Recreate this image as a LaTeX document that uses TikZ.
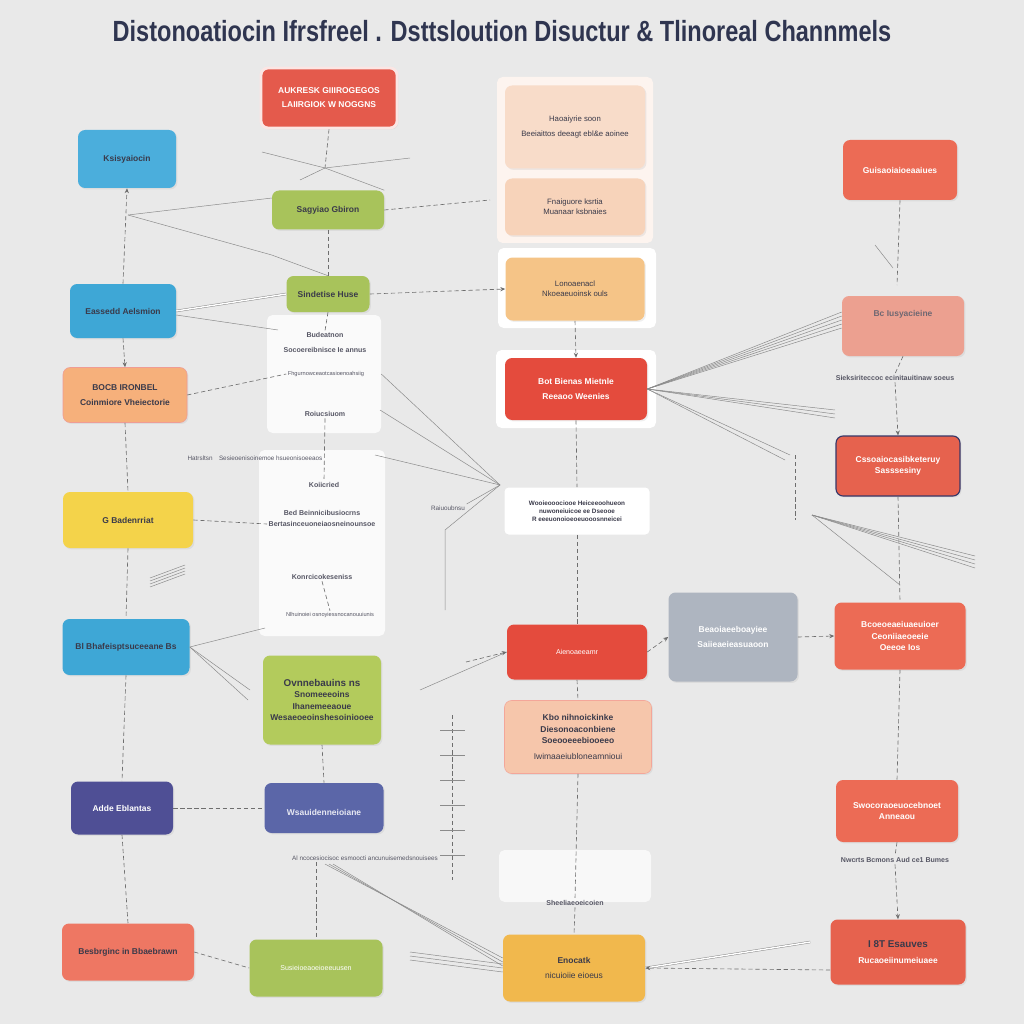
\documentclass[tikz,border=0pt]{standalone}
\usepackage{fontspec}
\setmainfont{Liberation Sans}
\usepackage{graphicx}
\usetikzlibrary{arrows.meta,calc,shadows}

\definecolor{bgc}{HTML}{E9E9E9}
\definecolor{ttl}{HTML}{2F3550}
\definecolor{ink}{HTML}{3A3A4A}
\definecolor{wire}{HTML}{6E6E6E}
\definecolor{blueA}{HTML}{4BAEDC}
\definecolor{blueB}{HTML}{3EA7D6}
\definecolor{orA}{HTML}{F6B07B}
\definecolor{yelA}{HTML}{F4D34A}
\definecolor{indA}{HTML}{4F4F95}
\definecolor{indB}{HTML}{5B66A8}
\definecolor{salA}{HTML}{EE7763}
\definecolor{redA}{HTML}{E45A4C}
\definecolor{grnA}{HTML}{A8C35B}
\definecolor{grnB}{HTML}{B3CB5C}
\definecolor{peaA}{HTML}{F8DCC9}
\definecolor{peaB}{HTML}{F7D3BA}
\definecolor{orB}{HTML}{F5C487}
\definecolor{redB}{HTML}{E44B3D}
\definecolor{peaC}{HTML}{F6C6AB}
\definecolor{golA}{HTML}{F1B84D}
\definecolor{gryA}{HTML}{AEB5C0}
\definecolor{corA}{HTML}{EC6B55}
\definecolor{corB}{HTML}{EE9A88}
\definecolor{corC}{HTML}{E6624E}

\tikzset{
  bx/.style n args={2}{minimum width=#1*0.709pt, minimum height=#2*0.709pt},
  box/.style={rounded corners=5pt, draw=none, align=center, inner sep=1pt,
    font=\fontsize{6}{8}\selectfont\bfseries, text=ink,
    drop shadow={opacity=0.12, shadow xshift=1pt, shadow yshift=-1pt}},
  wbox/.style={box, text=white},
  lbl/.style={font=\fontsize{5}{6}\selectfont\bfseries, text=ink!85, inner sep=1pt},
  wr/.style={draw=wire, line width=0.45pt, densely dashed},
  fan/.style={draw=wire!80, line width=0.35pt},
  tip/.style={-{Stealth[length=3.5pt,width=3pt]}}
}

\begin{document}
\begin{tikzpicture}[x=0.709pt,y=-0.709pt]
\fill[bgc] (0,0) rectangle (1024,1024);
\useasboundingbox (0,0) rectangle (1024,1024);

% title
\node[text=ttl] (title) at (502,31)
  {\resizebox{552pt}{15pt}{\fontsize{20}{24}\selectfont\bfseries Distonoatiocin Ifrsfreel . Dsttsloution Disuctur \& Tlinoreal Channmels}};

% column 3 backing frames
\node[rounded corners=4pt, fill=white!70!peaA, bx={156}{166}] (frm1) at (575,160) {};
\node[rounded corners=4pt, fill=white, bx={158}{80}] (frm2) at (577,288) {};
\node[rounded corners=4pt, fill=white, bx={160}{78}] (frm3) at (576,389) {};

% white panels of column 2
\node[rounded corners=4pt, fill=white, fill opacity=0.8, bx={114}{118}] (wpa) at (324,374) {};
\node[rounded corners=4pt, fill=white, fill opacity=0.8, bx={126}{186}] (wpb) at (322,543) {};
\node[rounded corners=4pt, fill=white, fill opacity=0.7, bx={152}{52}] (wpc) at (575,876) {};

% ---- column 1
\node[box, fill=blueA, bx={98}{58}] (kes) at (127,159) {Ksisyaiocin};
\node[box, fill=blueB, bx={106}{54}] (eas) at (123,311) {Eassedd Aelsmion};
\node[box, fill=orA, draw=redA!60, bx={124}{55}] (boc) at (125,395) {BOCB IRONBEL\\[3pt]Coinmiore Vheiectorie};
\node[box, fill=yelA, bx={130}{56}] (gba) at (128,520) {G Badenrriat};
\node[box, fill=blueB, bx={127}{56}] (bsh) at (126,647) {Bl Bhafeisptsuceeane Bs};
\node[wbox, fill=indA, bx={102}{53}] (add) at (122,808) {Adde Eblantas};
\node[box, fill=salA, bx={132}{57}] (bes) at (128,952) {Besbrginc in Bbaebrawn};

% ---- column 2
\node[wbox, fill=redA, draw=white!85!redA, line width=2pt, bx={136}{60}] (auk) at (329,98)
  {AUKRESK GIIIROGEGOS\\[2pt]LAIIRGIOK W NOGGNS};
\node[box, fill=grnA, bx={112}{39}] (sag) at (328,210) {Sagyiao Gbiron};
\node[box, fill=grnA, bx={83}{36}] (sin) at (328,294) {Sindetise Huse};
\node[box, fill=grnB, bx={118}{89}] (ovn) at (322,700)
  {\fontsize{7}{8}\selectfont Ovnnebauins ns\\Snomeeeoins\\Ihanemeeaoue\\Wesaeoeoinshesoiniooee};
\node[box, fill=indB, text=white!85!indB, bx={119}{50}] (wsa) at (324,808) {\\[2pt]Wsauidenneioiane};
\node[wbox, fill=grnA, font=\fontsize{5}{6}\selectfont, bx={133}{57}] (gre) at (316,968) {Susieioeaoeioeeuusen};

% panel texts
\node[lbl] (bud) at (325,335) {Budeatnon};
\node[lbl] (soc) at (325,350) {Socoereibnisce Ie annus};
\node[lbl, font=\fontsize{4}{5}\selectfont] (fhg) at (326,374) {Fhgurnowceaotcasioenoahsiig};
\node[lbl] (roi) at (325,414) {Roiucsiuom};
\node[lbl] (koi) at (324,485) {Koiicried};
\node[lbl] (bed) at (322,513) {Bed Beinnicibusiocrns};
\node[lbl] (ber) at (322,524) {Bertasinceuoneiaosneinounsoe};
\node[lbl] (kon) at (322,577) {Konrcicokeseniss};
\node[lbl, font=\fontsize{4}{5}\selectfont] (nlh) at (330,615) {Nlhuinoiei osnoyiessnocanouuiunis};

% ---- column 3
\node[box, fill=peaA, font=\fontsize{5.5}{7}\selectfont, bx={140}{83}] (hao) at (575,127)
  {Haoaiyrie soon\\[3pt]Beeiaittos deeagt ebl\&e aoinee};
\node[box, fill=peaB, font=\fontsize{5.5}{7}\selectfont, bx={140}{57}] (fna) at (575,207)
  {Fnaiguore ksrtia\\Muanaar ksbnaies};
\node[box, fill=orB, font=\fontsize{5.5}{7}\selectfont, bx={139}{63}] (lon) at (575,289)
  {Lonoaenacl\\Nkoeaeuoinsk ouls};
\node[wbox, fill=redB, bx={142}{62}] (bot) at (576,389) {Bot Bienas Mietnle\\[2pt]Reeaoo Weenies};
\node[rounded corners=3pt, fill=white, align=center, font=\fontsize{4.5}{5.5}\selectfont\bfseries,
  text=ink, bx={145}{47}] (woo) at (577,511)
  {Wooieooociooe Heiceeoohueon\\nuwoneiuicoe ee Dseooe\\R eeeuonoioeoeuooosnneicei};
\node[wbox, fill=redB, font=\fontsize{5}{6}\selectfont, bx={140}{55}] (aie) at (577,652) {Aienoaeeamr};
\node[box, fill=peaC, draw=corA!60, bx={147}{73}] (kbo) at (578,737)
  {Kbo nihnoickinke\\Diesonoaconbiene\\Soeooeeebiooeeo\\[3pt]{\mdseries Iwimaaeiubloneamnioui}};
\node[lbl] (she) at (575,903) {Sheeliaeoeicoien};
\node[box, fill=golA, bx={142}{67}] (eno) at (574,968) {Enocatk\\[3pt]{\mdseries nicuioiie eioeus}};

% ---- column 4
\node[wbox, fill=gryA, bx={129}{89}] (bea) at (733,637) {Beaoiaeeboayiee\\[3pt]Saiieaeieasuaoon};

% ---- column 5
\node[wbox, fill=corA, bx={114}{60}] (gui) at (900,170) {Guisaoiaioeaaiues};
\node[box, fill=corB, fill opacity=0.9, text=ink!80, bx={122}{60}] (bci) at (903,326) {Bc Iusyacieine\\[10pt]~};
\node[lbl] (sie) at (895,378) {Sieksiriteccoc ecinitauitinaw soeus};
\node[wbox, fill=corC, draw=indA!70!black, line width=0.8pt, bx={124}{60}] (css) at (898,466)
  {Cssoaiocasibketeruy\\Sasssesiny};
\node[wbox, fill=corA, bx={131}{67}] (bco) at (900,636) {Bcoeoeaeiuaeuioer\\Ceoniiaeoeeie\\Oeeoe Ios};
\node[wbox, fill=corA, bx={122}{62}] (swo) at (897,811) {Swocoraoeuocebnoet\\Anneaou};
\node[lbl] (nwc) at (895,860) {Nwcrts Bcmons Aud ce1 Bumes};
\node[wbox, fill=corC, bx={135}{65}] (bts) at (898,952)
  {{\color{ink}\fontsize{7}{8}\selectfont I 8T Esauves}\\[3pt]Rucaoeiinumeiuaee};

% other labels
\node[lbl, font=\fontsize{4.5}{5}\selectfont] (hat) at (255,458) {Hatrsltsn\quad Sesieoenisoinemoe hsueonisoeeaos};
\node[lbl, font=\fontsize{4.5}{5}\selectfont] (alx) at (365,858) {Al ncocesiocisoc esmoocti ancunuisemedsnouisees};
\node[lbl, font=\fontsize{4.5}{5}\selectfont] (rai) at (448,508) {Raiuoubnsu};

% hubs
\coordinate (hb1) at (128,215);
\coordinate (hb2) at (500,485);
\coordinate (hb3) at (660,392);
\coordinate (hb4) at (812,515);
\coordinate (cx1) at (325,168);

% ---- connectors column 1
\draw[wr,tip] (eas.north) -- (kes.south);
\draw[fan] (hb1) -- (sag.west |- 0,255) -- (sin.north);
\draw[fan] (hb1) -- (272,198);
\draw[fan,double distance=1pt] (eas.east) -- (sin.west);
\draw[fan] ($(eas.east)+(0,4)$) -- (278,330);
\draw[wr,tip] (eas.south) -- (boc.north);
\draw[wr] (boc.east) -- (fhg.west);
\draw[wr] (boc.south) -- (gba.north);
\draw[wr] (gba.east) -- (ber.west);
\draw[wr] (gba.south) -- (bsh.north);
\foreach \k in {0,3,6,9} \draw[fan] (150,578+\k) -- (185,565+\k);
\draw[fan] (bsh.east) -- (265,628);
\draw[fan] (bsh.east) -- (248,700);
\draw[fan] (bsh.east) -- (250,690);
\draw[wr] (bsh.south) -- (add.north);
\draw[wr] (add.east) -- (wsa.west);
\draw[wr] (add.south) -- (bes.north);
\draw[wr] (bes.east) -- (gre.west);

% ---- connectors column 2
\draw[wr] (auk.south) -- (cx1);
\draw[fan] (262,152) -- (cx1) -- (sag.north east);
\draw[fan] (300,180) -- (cx1) -- (410,158);
\draw[wr] (sag.east) -- (490,200);
\draw[wr] (sag.south) -- (sin.north);
\draw[wr,tip] (sin.east) -- (lon.west);
\draw[wr] (sin.south) -- (bud.north);
\draw[wr] (roi.south) -- (koi.north);
\draw[wr] (kon.south) -- (nlh.north);
\draw[wr] (ovn.south) -- (wsa.north);
\draw[wr] (alx.south -| gre.north) -- (gre.north);
\foreach \k in {0,4,8} \draw[fan] ($(alx.south)+(-40+\k,2)$) -- ($(eno.west)+(0,-10+\k)$);
\foreach \k in {0,4,8} \draw[fan] (410,952+\k) -- ($(eno.west)+(0,-4+\k)$);

% ---- connectors column 3
\draw[wr,tip] (lon.south) -- (bot.north);
\draw[fan] (wpa.east) -- (hb2);
\draw[fan] (380,410) -- (hb2);
\draw[fan] (375,455) -- (hb2);
\draw[fan] (hb2) -- (rai.north east);
\draw[fan] (hb2) -- (445,530) -- (445,610);
\draw[fan] (420,690) -- (aie.west);
\draw[wr,tip] (466,662) -- (aie.west);
\draw[wr] (bot.south) -- (woo.north);
\draw[wr] (woo.south) -- (aie.north);
\draw[wr] (aie.south) -- (kbo.north);
\draw[wr] (kbo.south) -- (she.north);
\draw[wr] (she.south) -- (eno.north);
\foreach \k in {0,4,8,12,16} \draw[fan] (bot.east) -- ($(bci.west)+(0,-14+\k)$);
\foreach \k in {0,4,8} \draw[fan] (bot.east) -- (835,410+\k);
\draw[fan] (bot.east) -- (790,455);
\draw[fan] (bot.east) -- (785,460);
% ladder near column 3
\draw[wr] (452,715) -- (452,880);
\foreach \y in {730,755,780,805,830,855} \draw[fan] (440,\y) -- (465,\y);

% ---- connectors columns 4 and 5
\draw[wr,tip] (aie.east) -- (bea.west);
\draw[wr,tip] (bea.east) -- (bco.west);
\draw[wr] (gui.south) -- (897,285);
\draw[fan] (875,245) -- (893,268);
\draw[wr] (bci.south) -- (sie.north);
\draw[wr,tip] (sie.south) -- (css.north);
\draw[wr] (css.south) -- (bco.north);
\draw[wr] (795,455) -- (795,520);
\foreach \k in {0,4,8,12} \draw[fan] (hb4) -- (975,556+\k);
\draw[fan] (hb4) -- (900,585);
\draw[wr] (bco.south) -- (swo.north);
\draw[wr] (swo.south) -- (nwc.north);
\draw[wr,tip] (nwc.south) -- (bts.north);
\draw[fan,double distance=1pt] (eno.east) -- ($(bts.west)+(-20,-10)$);
\draw[wr,tip] ($(bts.west)+(0,18)$) -- (eno.east);
\end{tikzpicture}
\end{document}
